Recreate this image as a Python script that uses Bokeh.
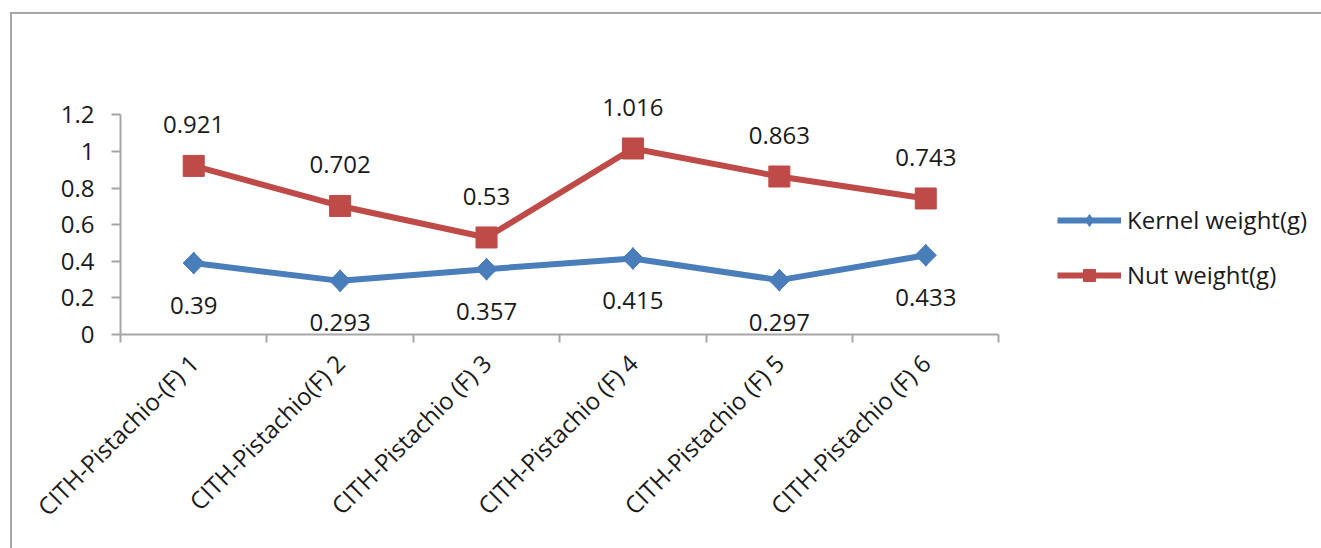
import math
from bokeh.plotting import figure
from bokeh.core.properties import value
from bokeh.models import (Range1d, LinearAxis, FixedTicker, CustomJSTickFormatter,
                          NumeralTickFormatter, ColumnDataSource, LabelSet, Legend, LegendItem)
from bokeh.embed import file_html
from bokeh.resources import INLINE

categories = ["CITH-Pistachio-(F) 1", "CITH-Pistachio(F) 2", "CITH-Pistachio (F) 3",
              "CITH-Pistachio (F) 4", "CITH-Pistachio (F) 5", "CITH-Pistachio (F) 6"]
kernel_weight = [0.39, 0.293, 0.357, 0.415, 0.297, 0.433]
nut_weight = [0.921, 0.702, 0.53, 1.016, 0.863, 0.743]
y_ticks = [0, 0.2, 0.4, 0.6, 0.8, 1.0, 1.2]
series_names = ["Kernel weight(g)", "Nut weight(g)"]

BLUE = "#4A7EBB"
RED = "#BE4B48"
GRAY = "#A6A6A6"
FONT = "Open Sans"
FS = "24px"
TXT = "#1a1a1a"

n = len(categories)
xpos = [i + 0.5 for i in range(n)]  # category centres on the category scale

# layout: the category area spans 877 px of a 1201 px wide frame; the rest holds the legend
FRAME_W = 1201
CAT_W = 877
x_end = n * FRAME_W / CAT_W

src = ColumnDataSource(dict(
    x=xpos, k=kernel_weight, n=nut_weight,
    kl=[f"{v:g}" for v in kernel_weight], nl=[f"{v:g}" for v in nut_weight]))

p = figure(width=1311, height=536, x_range=Range1d(0, x_end), y_range=Range1d(0, 1.3),
           x_axis_location=None, y_axis_location=None,
           output_backend="svg", toolbar_location=None,
           min_border_left=108, min_border_right=0, min_border_top=82, min_border_bottom=216)
p.margin = (12, 0, 0, 10)
p.styles = {"border-top": f"2px solid {GRAY}", "border-left": f"2px solid {GRAY}", "box-sizing": "border-box"}
p.xgrid.visible = False
p.ygrid.visible = False
p.outline_line_color = None

yaxis = LinearAxis(ticker=FixedTicker(ticks=y_ticks), formatter=NumeralTickFormatter(format="0.[0]"),
                   bounds=(0, 1.2))
yaxis.axis_line_color = GRAY
yaxis.axis_line_width = 2
yaxis.major_tick_line_color = GRAY
yaxis.major_tick_line_width = 2
yaxis.major_tick_out = 9
yaxis.major_tick_in = 0
yaxis.minor_tick_line_color = None
yaxis.major_label_standoff = 17
yaxis.major_label_text_font = FONT
yaxis.major_label_text_font_size = FS
yaxis.major_label_text_color = TXT
p.add_layout(yaxis, "left")

tick_axis = LinearAxis(ticker=FixedTicker(ticks=list(range(n + 1))),
                       formatter=CustomJSTickFormatter(code="return ''"), bounds=(0, n))
tick_axis.axis_line_color = GRAY
tick_axis.axis_line_width = 2
tick_axis.major_tick_line_color = GRAY
tick_axis.major_tick_line_width = 2
tick_axis.major_tick_out = 8
tick_axis.major_tick_in = 0
tick_axis.minor_tick_line_color = None
tick_axis.major_label_standoff = 0
tick_axis.major_label_text_font_size = "1px"
p.add_layout(tick_axis, "below")

cat_axis = LinearAxis(ticker=FixedTicker(ticks=xpos),
                      major_label_overrides={x: c for x, c in zip(xpos, categories)})
cat_axis.axis_line_color = None
cat_axis.major_tick_line_color = None
cat_axis.minor_tick_line_color = None
cat_axis.major_label_orientation = math.pi / 4
cat_axis.major_label_standoff = 10
cat_axis.major_label_text_font = FONT
cat_axis.major_label_text_font_size = "24px"
cat_axis.major_label_text_color = TXT
p.add_layout(cat_axis, "below")

kl = p.line("x", "k", source=src, line_color=BLUE, line_width=6)
kd = p.scatter("x", "k", source=src, marker="diamond", size=22, fill_color=BLUE, line_color=BLUE)
km = p.scatter("x", "k", source=src, marker="square", angle=math.pi / 4, size=15,
               fill_color=BLUE, line_color=BLUE)
nl = p.line("x", "n", source=src, line_color=RED, line_width=6)
nm = p.scatter("x", "n", source=src, marker="square", size=21, fill_color=RED, line_color=RED)

for col, ycol, off in (("kl", "k", -42), ("nl", "n", 41)):
    p.add_layout(LabelSet(x="x", y=ycol, text=col, source=src, y_offset=off,
                          text_align="center", text_baseline="middle",
                          text_font=value(FONT), text_font_size=value(FS), text_color=TXT))

legend = Legend(items=[LegendItem(label=series_names[0], renderers=[kl, kd]),
                       LegendItem(label=series_names[1], renderers=[nl, nm])],
                location=(937, 43), glyph_width=64, glyph_height=30, label_height=30,
                spacing=22, padding=0, margin=0, label_standoff=6,
                border_line_color=None, background_fill_alpha=0,
                label_text_font=FONT, label_text_font_size=FS, label_text_color=TXT)
p.add_layout(legend, "center")

open("out.html", "w").write(file_html(p, INLINE))
